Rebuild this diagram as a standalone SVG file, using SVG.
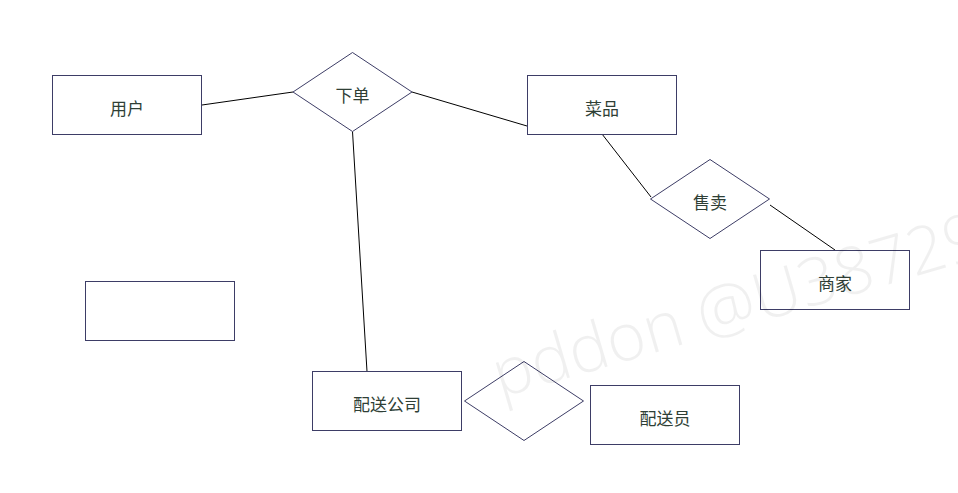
<svg xmlns="http://www.w3.org/2000/svg" width="958" height="493" viewBox="0 0 958 493">
  <style>
    .box { fill: #ffffff; stroke: #3d3d66; stroke-width: 1; }
    .link { stroke: #000000; stroke-width: 1; fill: none; }
    .label { font-family: "Noto Sans CJK SC", "Noto Sans", sans-serif; font-size: 17px; fill: #2f3f36; text-anchor: middle; dominant-baseline: central; }
    .mark { font-family: "Open Sans", "Liberation Sans", sans-serif; font-weight: 300; font-size: 66px; fill: #000000; fill-opacity: 0.06; }
  </style>
  <rect x="0" y="0" width="958" height="493" fill="#ffffff"/>

  <!-- connectors -->
  <g id="connectors">
    <line class="link" x1="202" y1="105" x2="293" y2="92"/>
    <line class="link" x1="412" y1="92" x2="527" y2="126"/>
    <line class="link" x1="602" y1="134" x2="651" y2="197"/>
    <line class="link" x1="770" y1="205" x2="835" y2="250"/>
    <line class="link" x1="352.5" y1="131.5" x2="367" y2="371.5"/>
  </g>

  <!-- entities and relationships -->
  <g id="user">
    <rect class="box" x="52.5" y="75.5" width="149" height="59"/>
    <text class="label" x="127" y="107">用户</text>
  </g>
  <g id="order">
    <polygon class="box" points="293,92 352.5,52.5 412,92 352.5,131.5"/>
    <text class="label" x="352.5" y="94">下单</text>
  </g>
  <g id="dish">
    <rect class="box" x="527.5" y="75.5" width="149" height="59"/>
    <text class="label" x="602" y="107">菜品</text>
  </g>
  <g id="sell">
    <polygon class="box" points="650.5,199 710,159.5 769.5,199 710,238.5"/>
    <text class="label" x="710" y="201">售卖</text>
  </g>
  <g id="merchant">
    <rect class="box" x="760.5" y="250.5" width="149" height="59"/>
    <text class="label" x="835" y="282">商家</text>
  </g>
  <g id="blank">
    <rect class="box" x="85.5" y="281.5" width="149" height="59"/>
  </g>
  <g id="company">
    <rect class="box" x="312.5" y="371.5" width="149" height="59"/>
    <text class="label" x="387" y="403">配送公司</text>
  </g>
  <g id="assign">
    <polygon class="box" points="464.5,401 524,361.5 583.5,401 524,440.5"/>
  </g>
  <g id="courier">
    <rect class="box" x="590.5" y="385.5" width="149" height="59"/>
    <text class="label" x="665" y="417">配送员</text>
  </g>

  <text class="mark" x="500" y="398" transform="rotate(-16.3 500 398)">pddon @U38729</text>
</svg>
